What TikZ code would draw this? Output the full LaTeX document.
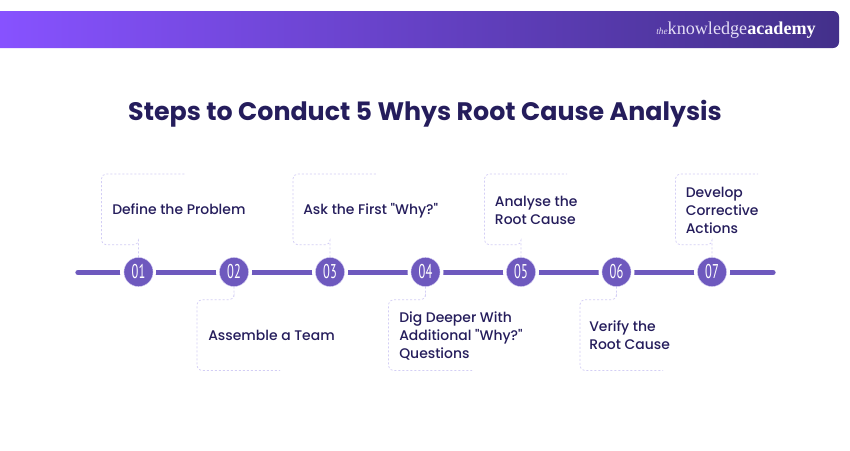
\documentclass[tikz,border=0pt]{standalone}
\usepackage{fontspec}
\setmainfont{Poppins}[Ligatures=TeX]
\newfontfamily\titlefont{Poppins}[UprightFont=* Bold,BoldFont=* Bold]
\newfontfamily\stepfont{Poppins}[UprightFont=* Medium]
\newfontfamily\numfont{PT Sans}
\newfontfamily\logofont{Liberation Serif}
\definecolor{ink}{HTML}{251D5C}
\definecolor{violet}{HTML}{6E59BE}
\definecolor{ringc}{HTML}{D8D2F5}
\definecolor{dashc}{HTML}{D3CEF5}
\definecolor{barl}{HTML}{8752FF}
\definecolor{barr}{HTML}{43308A}
\definecolor{logosoft}{HTML}{E4DEF6}
\tikzset{
  stepnum/.style={circle,fill=violet,draw=ringc,line width=0.3pt,minimum size=21.8pt,inner sep=0pt,text=white,font=\numfont\fontsize{13}{14}\selectfont},
  halo/.style={circle,fill=white,minimum size=27pt,inner sep=0pt},
  steptext/.style={anchor=west,align=left,inner sep=0pt,text=ink,font=\stepfont\fontsize{10.45}{13.5}\selectfont},
  guide/.style={draw=dashc,line width=0.55pt,dash pattern=on 1.5pt off 1.5pt,rounded corners=3.5pt},
  axis/.style={draw=violet,line width=4pt,line cap=round}
}
\newcommand{\narrownum}[1]{\scalebox{0.72}[1.15]{#1}}
\begin{document}
\begin{tikzpicture}[x=0.75pt,y=-0.75pt]
\useasboundingbox (0,0) rectangle (850,450);
\fill[white] (0,0) rectangle (850,450);
\shade[left color=barl,right color=barr] (0,11) [rounded corners=4.5pt] -- (839,11) -- (839,48) [sharp corners] -- (0,48) -- cycle;
\node[anchor=east,inner sep=0pt,text=white] (logo) at (816,30) {\logofont\fontsize{7}{8}\selectfont\textcolor{logosoft}{\textit{the}}\fontsize{13.6}{14}\selectfont\textcolor{logosoft}{knowledge}\textbf{academy}};
\node[inner sep=0pt,text=ink,font=\titlefont\fontsize{18.98}{23}\selectfont] (title) at (425,113.5) {Steps to Conduct 5 Whys Root Cause Analysis};
\coordinate (axisl) at (78,272.5);
\coordinate (axisr) at (773,272.5);
\draw[axis] (axisl) -- (axisr);
\foreach \n/\x in {1/138,2/234,3/330,4/425.5,5/521,6/616.5,7/712}{
  \node[halo] at (\x,272) {};
}
\node[stepnum] (c1) at (138.5,272) {\narrownum{01}};
\node[stepnum] (c2) at (234,272) {\narrownum{02}};
\node[stepnum] (c3) at (330,272) {\narrownum{03}};
\node[stepnum] (c4) at (425.5,272) {\narrownum{04}};
\node[stepnum] (c5) at (521,272) {\narrownum{05}};
\node[stepnum] (c6) at (616.5,272) {\narrownum{06}};
\node[stepnum] (c7) at (712,272) {\narrownum{07}};
\coordinate (e1) at (185,174);
\coordinate (e2) at (280,370.5);
\coordinate (e3) at (376,174);
\coordinate (e4) at (472,370.5);
\coordinate (e5) at (567,174);
\coordinate (e6) at (663,370.5);
\coordinate (e7) at (758,174);
\draw[guide] (c1.north) |- ++(0,-12.5) -| (101.5,174) -- (e1);
\draw[guide] (c3.north) |- ++(0,-12.5) -| (293,174) -- (e3);
\draw[guide] (c5.north) |- ++(0,-12.5) -| (484.5,174) -- (e5);
\draw[guide] (c7.north) |- ++(0,-12.5) -| (675.5,174) -- (e7);
\draw[guide] (c2.south) |- ++(0,13) -| (197,370.5) -- (e2);
\draw[guide] (c4.south) |- ++(0,13) -| (388.5,370.5) -- (e4);
\draw[guide] (c6.south) |- ++(0,13) -| (580,370.5) -- (e6);
\node[steptext] (t1) at (112,209) {Define the Problem};
\node[steptext] (t2) at (208,335) {Assemble a Team};
\node[steptext] (t3) at (303,210.5) {Ask the First "Why?"};
\node[steptext] (t4) at (399,336) {Dig Deeper With\\Additional "Why?"\\Questions};
\node[steptext] (t5) at (494.7,210) {Analyse the\\Root Cause};
\node[steptext] (t6) at (589,335) {Verify the\\Root Cause};
\node[steptext] (t7) at (685.5,210) {Develop\\Corrective\\Actions};
\end{tikzpicture}
\end{document}
